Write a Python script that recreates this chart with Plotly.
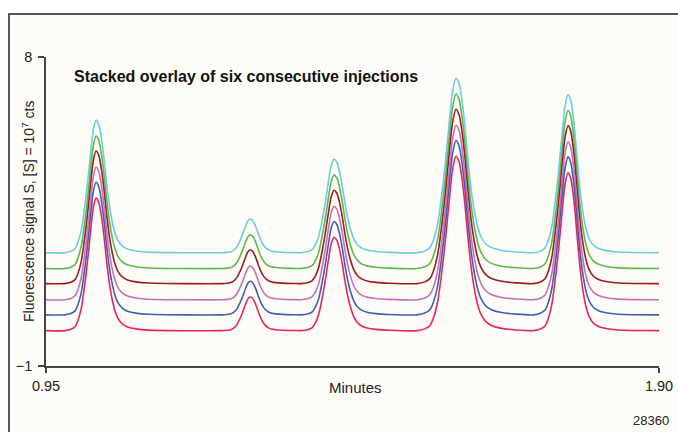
import plotly.graph_objects as go

# ---- data ----
# Shape of a peak (first peak): offset from apex in minutes, fraction of peak height
profile_dt = [-0.0465, -0.0372, -0.0310, -0.0264, -0.0217, -0.0171, -0.0124, -0.0078,
              -0.0039, 0.0, 0.0039, 0.0078, 0.0116, 0.0155, 0.0194, 0.0233, 0.0279,
              0.0326, 0.0388, 0.0465, 0.0589, 0.0775]
profile_rel = [0.0, 0.01, 0.03, 0.08, 0.17, 0.33, 0.53, 0.76, 0.93, 1.0, 0.97, 0.87,
               0.72, 0.53, 0.37, 0.25, 0.15, 0.09, 0.05, 0.028, 0.013, 0.004]

# Peak table (bottom trace)
retention_min = [1.0275, 1.2662, 1.3963, 1.5854, 1.7590]
peak_height = [3.86, 0.98, 2.72, 5.08, 4.60]
width_left = [1.05, 0.95, 1.10, 1.30, 1.15]
width_right = [1.05, 0.86, 1.10, 1.20, 1.00]
baseline_level = 0.03

# Six consecutive injections, stacked (bottom to top)
injection_offsets = [0.0, 0.46, 0.90, 1.37, 1.81, 2.27]
injection_colors = ["#e8245f", "#3f5fb1", "#c571b6", "#9c1c22", "#5cb84c", "#6ccce2"]

x_range = [0.95, 1.90]
y_range = [-1, 8]
x_ticks = [0.95, 1.90]
x_ticklabels = ["0.95", "1.90"]
y_ticks = [-1, 8]
y_ticklabels = ["\u22121", "8"]

title_text = "Stacked overlay of six consecutive injections"
x_title = "Minutes"
y_title = "Fluorescence signal S, [S] = 10<sup>7</sup> cts"
fig_id = "28360"

# ---- build base chromatogram from the peak table ----
base_t = [x_range[0]]
base_s = [baseline_level]
for rt, h, wl, wr in zip(retention_min, peak_height, width_left, width_right):
    for dt, rel in zip(profile_dt, profile_rel):
        w = wl if dt < 0 else wr
        base_t.append(rt + dt * w)
        base_s.append(baseline_level + h * rel)
base_t.append(x_range[1])
base_s.append(baseline_level)

FONT = "Liberation Sans, Arial, Helvetica, sans-serif"

fig = go.Figure()
for off, col in reversed(list(zip(injection_offsets, injection_colors))):
    fig.add_trace(go.Scatter(
        x=base_t, y=[s + off for s in base_s], mode="lines",
        line=dict(color=col, width=1.6, shape="spline", smoothing=0.8),
        hoverinfo="skip", showlegend=False))

W, H = 678, 432
L, R, T, B = 46, 19, 57, 66
pw, ph = W - L - R, H - T - B

def px_x(px):
    return (px - L) / pw

def px_y(py):
    return (H - B - py) / ph

fig.add_shape(type="rect", xref="paper", yref="paper",
              x0=px_x(9), x1=px_x(700), y0=px_y(450), y1=px_y(14),
              line=dict(color="#222222", width=1.5), fillcolor="#fdfcf6", layer="below")

fig.update_layout(
    width=W, height=H,
    margin=dict(l=L, r=R, t=T, b=B, autoexpand=False),
    paper_bgcolor="white", plot_bgcolor="rgba(0,0,0,0)",
    font=dict(family=FONT, size=14, color="#222222"),
    showlegend=False,
)
fig.update_xaxes(range=x_range, tickvals=x_ticks, ticktext=x_ticklabels,
                 showgrid=False, zeroline=False, showline=True, linecolor="#444444",
                 linewidth=1.5, ticks="outside", ticklen=5, tickwidth=1.5, tickcolor="#444444",
                 ticklabelstandoff=1, automargin=False,
                 tickfont=dict(size=14.5, family=FONT, color="#222222"))
fig.update_yaxes(range=y_range, tickvals=y_ticks, ticktext=y_ticklabels,
                 showgrid=False, zeroline=False, showline=True, linecolor="#444444",
                 linewidth=1.5, ticks="outside", ticklen=6, tickwidth=1.5, tickcolor="#444444",
                 ticklabelstandoff=3, automargin=False,
                 tickfont=dict(size=14.5, family=FONT, color="#222222"))

fig.add_annotation(text="<b>" + title_text + "</b>", xref="paper", yref="paper",
                   x=px_x(72), y=px_y(76), xanchor="left", yanchor="middle",
                   showarrow=False, font=dict(size=16, family=FONT, color="#111111"))
fig.add_annotation(text=x_title, xref="paper", yref="paper",
                   x=px_x(355), y=px_y(387), xanchor="center", yanchor="middle",
                   showarrow=False, font=dict(size=15, family=FONT, color="#222222"))
fig.add_annotation(text=y_title, xref="paper", yref="paper", textangle=-90,
                   x=px_x(28), y=px_y(212), xanchor="center", yanchor="middle",
                   showarrow=False, font=dict(size=14, family=FONT, color="#222222"))
fig.add_annotation(text=fig_id, xref="paper", yref="paper",
                   x=px_x(671), y=px_y(420), xanchor="right", yanchor="middle",
                   showarrow=False, font=dict(size=13, family=FONT, color="#222222"))

fig.write_html("out.html")
